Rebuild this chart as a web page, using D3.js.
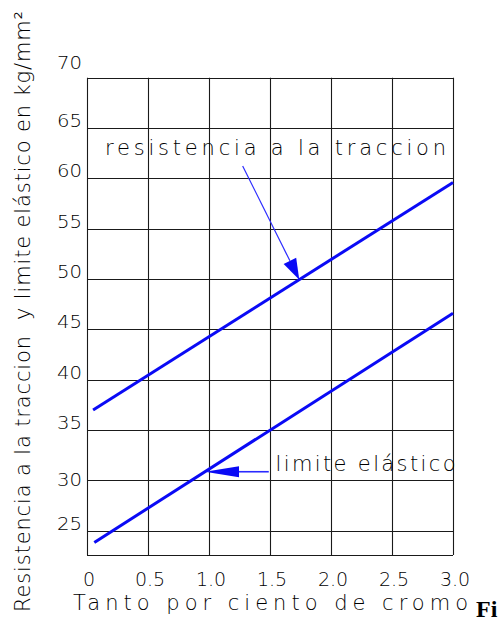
<!DOCTYPE html>
<html>
<head>
<meta charset="utf-8">
<script src="https://cdn.jsdelivr.net/npm/d3@7"></script>
<style>
  html, body { margin: 0; padding: 0; background: #fff; }
  svg { display: block; }
  text { font-family: "DejaVu Sans", sans-serif; font-weight: 200; fill: #000; }
</style>
</head>
<body>
<script>
// ---- data ----
const xTicks = [0, 0.5, 1.0, 1.5, 2.0, 2.5, 3.0];
const xTickLabels = ["0", "0.5", "1.0", "1.5", "2.0", "2.5", "3.0"];
const yTicks = [25, 30, 35, 40, 45, 50, 55, 60, 65, 70];
const yTickLabels = ["25", "30", "35", "40", "45", "50", "55", "60", "65", "70"];
const resistX = [0.05, 3.0];
const resistY = [37.0, 59.6];
const limiteX = [0.06, 3.0];
const limiteY = [23.85, 46.6];
const seriesNames = ["resistencia a la traccion", "limite elástico"];
const xTitle = "Tanto por ciento de cromo";
const yTitle = "Resistencia a la traccion  y limite elástico en kg/mm²";
const caption = "Fi";

const W = 501, H = 619;
const svg = d3.select("body").append("svg").attr("width", W).attr("height", H);

const x = d3.scaleLinear().domain([0, 3]).range([87, 453]);
const y = d3.scaleLinear().domain([22.6, 70]).range([555, 77.7]);

// grid
const grid = svg.append("g").attr("stroke", "#1a1a1a").attr("stroke-width", 1.1).attr("fill", "none");
xTicks.forEach(t => {
  grid.append("line").attr("x1", Math.round(x(t)) + 0.5).attr("x2", Math.round(x(t)) + 0.5)
    .attr("y1", y(70)).attr("y2", y(22.6));
});
yTicks.forEach(t => {
  grid.append("line").attr("x1", x(0)).attr("x2", x(3))
    .attr("y1", Math.round(y(t)) + 0.5).attr("y2", Math.round(y(t)) + 0.5);
});
grid.append("line").attr("x1", x(0)).attr("x2", x(3))
  .attr("y1", Math.round(y(22.6)) + 0.5).attr("y2", Math.round(y(22.6)) + 0.5);

// y tick labels
const yOff = {70: -8, 30: 7};
svg.append("g").selectAll("text").data(yTicks).join("text")
  .attr("x", 82).attr("y", d => y(d) - 1 + (yOff[d] || 0))
  .attr("text-anchor", "end").attr("font-size", 18)
  .attr("textLength", 25).attr("lengthAdjust", "spacingAndGlyphs")
  .text((d, i) => yTickLabels[i]);

// x tick labels
svg.append("g").selectAll("text").data(xTicks).join("text")
  .attr("x", d => x(d) + 2).attr("y", 586)
  .attr("text-anchor", "middle").attr("font-size", 19)
  .text((d, i) => xTickLabels[i]);

// axis titles
svg.append("text").attr("x", 73).attr("y", 610).attr("font-size", 21)
  .attr("textLength", 395).attr("lengthAdjust", "spacing").text(xTitle);
svg.append("text").attr("transform", "translate(30,612) rotate(-90)")
  .attr("font-size", 21).attr("xml:space", "preserve")
  .attr("textLength", 601).attr("lengthAdjust", "spacing").text(yTitle);

// lines
const line = d3.line().x(d => x(d[0])).y(d => y(d[1]));
svg.append("path").datum(d3.zip(resistX, resistY)).attr("d", line)
  .attr("fill", "none").attr("stroke", "#0a0af5").attr("stroke-width", 3);
svg.append("path").datum(d3.zip(limiteX, limiteY)).attr("d", line)
  .attr("fill", "none").attr("stroke", "#0a0af5").attr("stroke-width", 3);

// annotation texts
svg.append("text").attr("x", x(0.148)).attr("y", y(62.3)).attr("font-size", 21)
  .attr("textLength", 341).attr("lengthAdjust", "spacing").text(seriesNames[0]);
svg.append("text").attr("x", x(1.545)).attr("y", y(30.95)).attr("font-size", 21)
  .attr("textLength", 180).attr("lengthAdjust", "spacing").text(seriesNames[1]);

// arrows
function arrow(x0, y0, x1, y1, len, half, w) {
  const dx = x1 - x0, dy = y1 - y0, L = Math.hypot(dx, dy);
  const ux = dx / L, uy = dy / L;
  const bx = x1 - ux * len, by = y1 - uy * len;
  svg.append("line").attr("x1", x0).attr("y1", y0).attr("x2", bx).attr("y2", by)
    .attr("stroke", "#2a2aff").attr("stroke-width", w);
  svg.append("path").attr("d", d3.line()([
    [x1, y1], [bx - uy * half, by + ux * half], [bx + uy * half, by - ux * half]
  ]) + "Z").attr("fill", "#0a0af5");
}
const tipR = 1.74, tipRy = resistY[0] + (tipR - resistX[0]) * (resistY[1] - resistY[0]) / (resistX[1] - resistX[0]);
arrow(x(1.276), y(61.23), x(tipR), y(tipRy), 21, 7, 1.2);
const tipL = 0.967, tipLy = limiteY[0] + (tipL - limiteX[0]) * (limiteY[1] - limiteY[0]) / (limiteX[1] - limiteX[0]);
arrow(x(1.49), y(tipLy), x(tipL), y(tipLy), 34, 5.5, 1.6);

// figure caption (truncated at the right edge in the source)
svg.append("text").attr("x", 476).attr("y", 617)
  .style("font-family", "'Liberation Serif', serif").style("font-weight", "bold")
  .attr("font-size", 24).style("fill", "#000").text(caption);
</script>
</body>
</html>
